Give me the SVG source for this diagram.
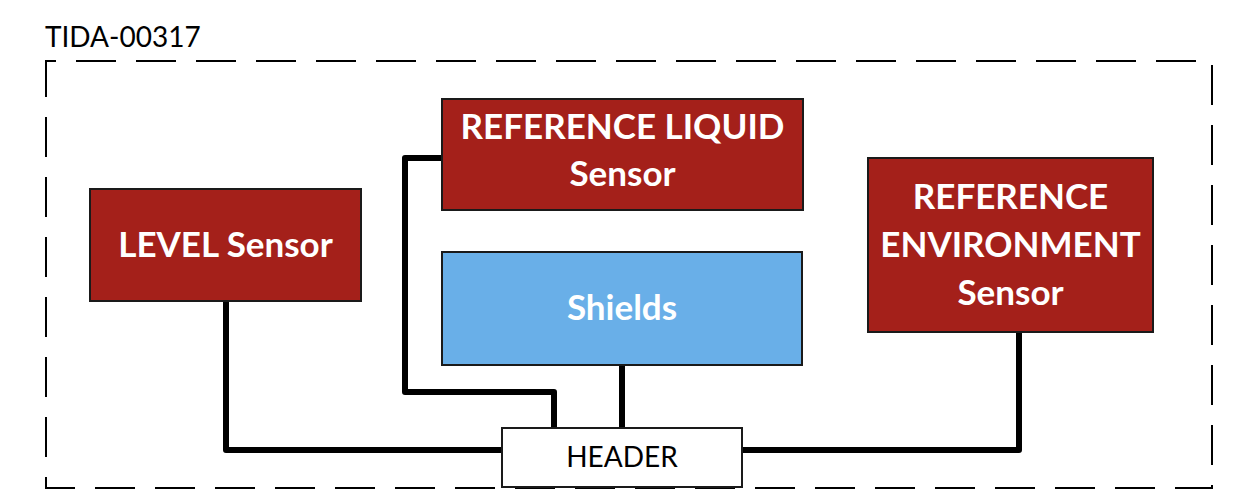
<svg xmlns="http://www.w3.org/2000/svg" width="1242" height="501" viewBox="0 0 1242 501">
<style>
.red{fill:#A4201A;stroke:#1a1a1a;stroke-width:2}
.blue{fill:#69AFE8;stroke:#1a1a1a;stroke-width:2}
.hdr{fill:#ffffff;stroke:#1a1a1a;stroke-width:2}
.lbl{font-family:Lato,"Open Sans","Liberation Sans",sans-serif;font-weight:bold;font-size:35px;fill:#ffffff;text-anchor:middle}
.reg{font-family:Lato,"Open Sans","Liberation Sans",sans-serif;font-size:28px;fill:#000000}
.wire{fill:none;stroke:#000000;stroke-width:6;stroke-linejoin:round;stroke-linecap:round}
</style>
<rect width="1242" height="501" fill="#ffffff"/>
<path d="M46,61 H1212 V488 H46 Z" fill="none" stroke="#000000" stroke-width="2" stroke-dasharray="40 20" stroke-dashoffset="30"/>
<text class="reg" x="45" y="47">TIDA-00317</text>
<g id="connectors">
<path class="wire" d="M226,301 V450 H502"/>
<path class="wire" d="M742,450 H1019 V332"/>
<path class="wire" d="M442,158 H405 V392 H554 V428"/>
<path class="wire" d="M622,366 V428"/>
</g>
<g id="level">
<rect class="red" x="90" y="189" width="271" height="112"/>
<text class="lbl" x="225.5" y="257">LEVEL Sensor</text>
</g>
<g id="liquid">
<rect class="red" x="442" y="99" width="361" height="111"/>
<text class="lbl" x="622.5" y="139">REFERENCE LIQUID</text>
<text class="lbl" x="622.5" y="186">Sensor</text>
</g>
<g id="shields">
<rect class="blue" x="442" y="252" width="360" height="113"/>
<text class="lbl" x="622" y="320">Shields</text>
</g>
<g id="environment">
<rect class="red" x="868" y="158" width="285" height="174"/>
<text class="lbl" x="1010.5" y="209">REFERENCE</text>
<text class="lbl" x="1010.5" y="257">ENVIRONMENT</text>
<text class="lbl" x="1010.5" y="305">Sensor</text>
</g>
<g id="header">
<rect class="hdr" x="502" y="428" width="240" height="59"/>
<text class="reg" x="622" y="467" text-anchor="middle" font-size="26">HEADER</text>
</g>
</svg>
